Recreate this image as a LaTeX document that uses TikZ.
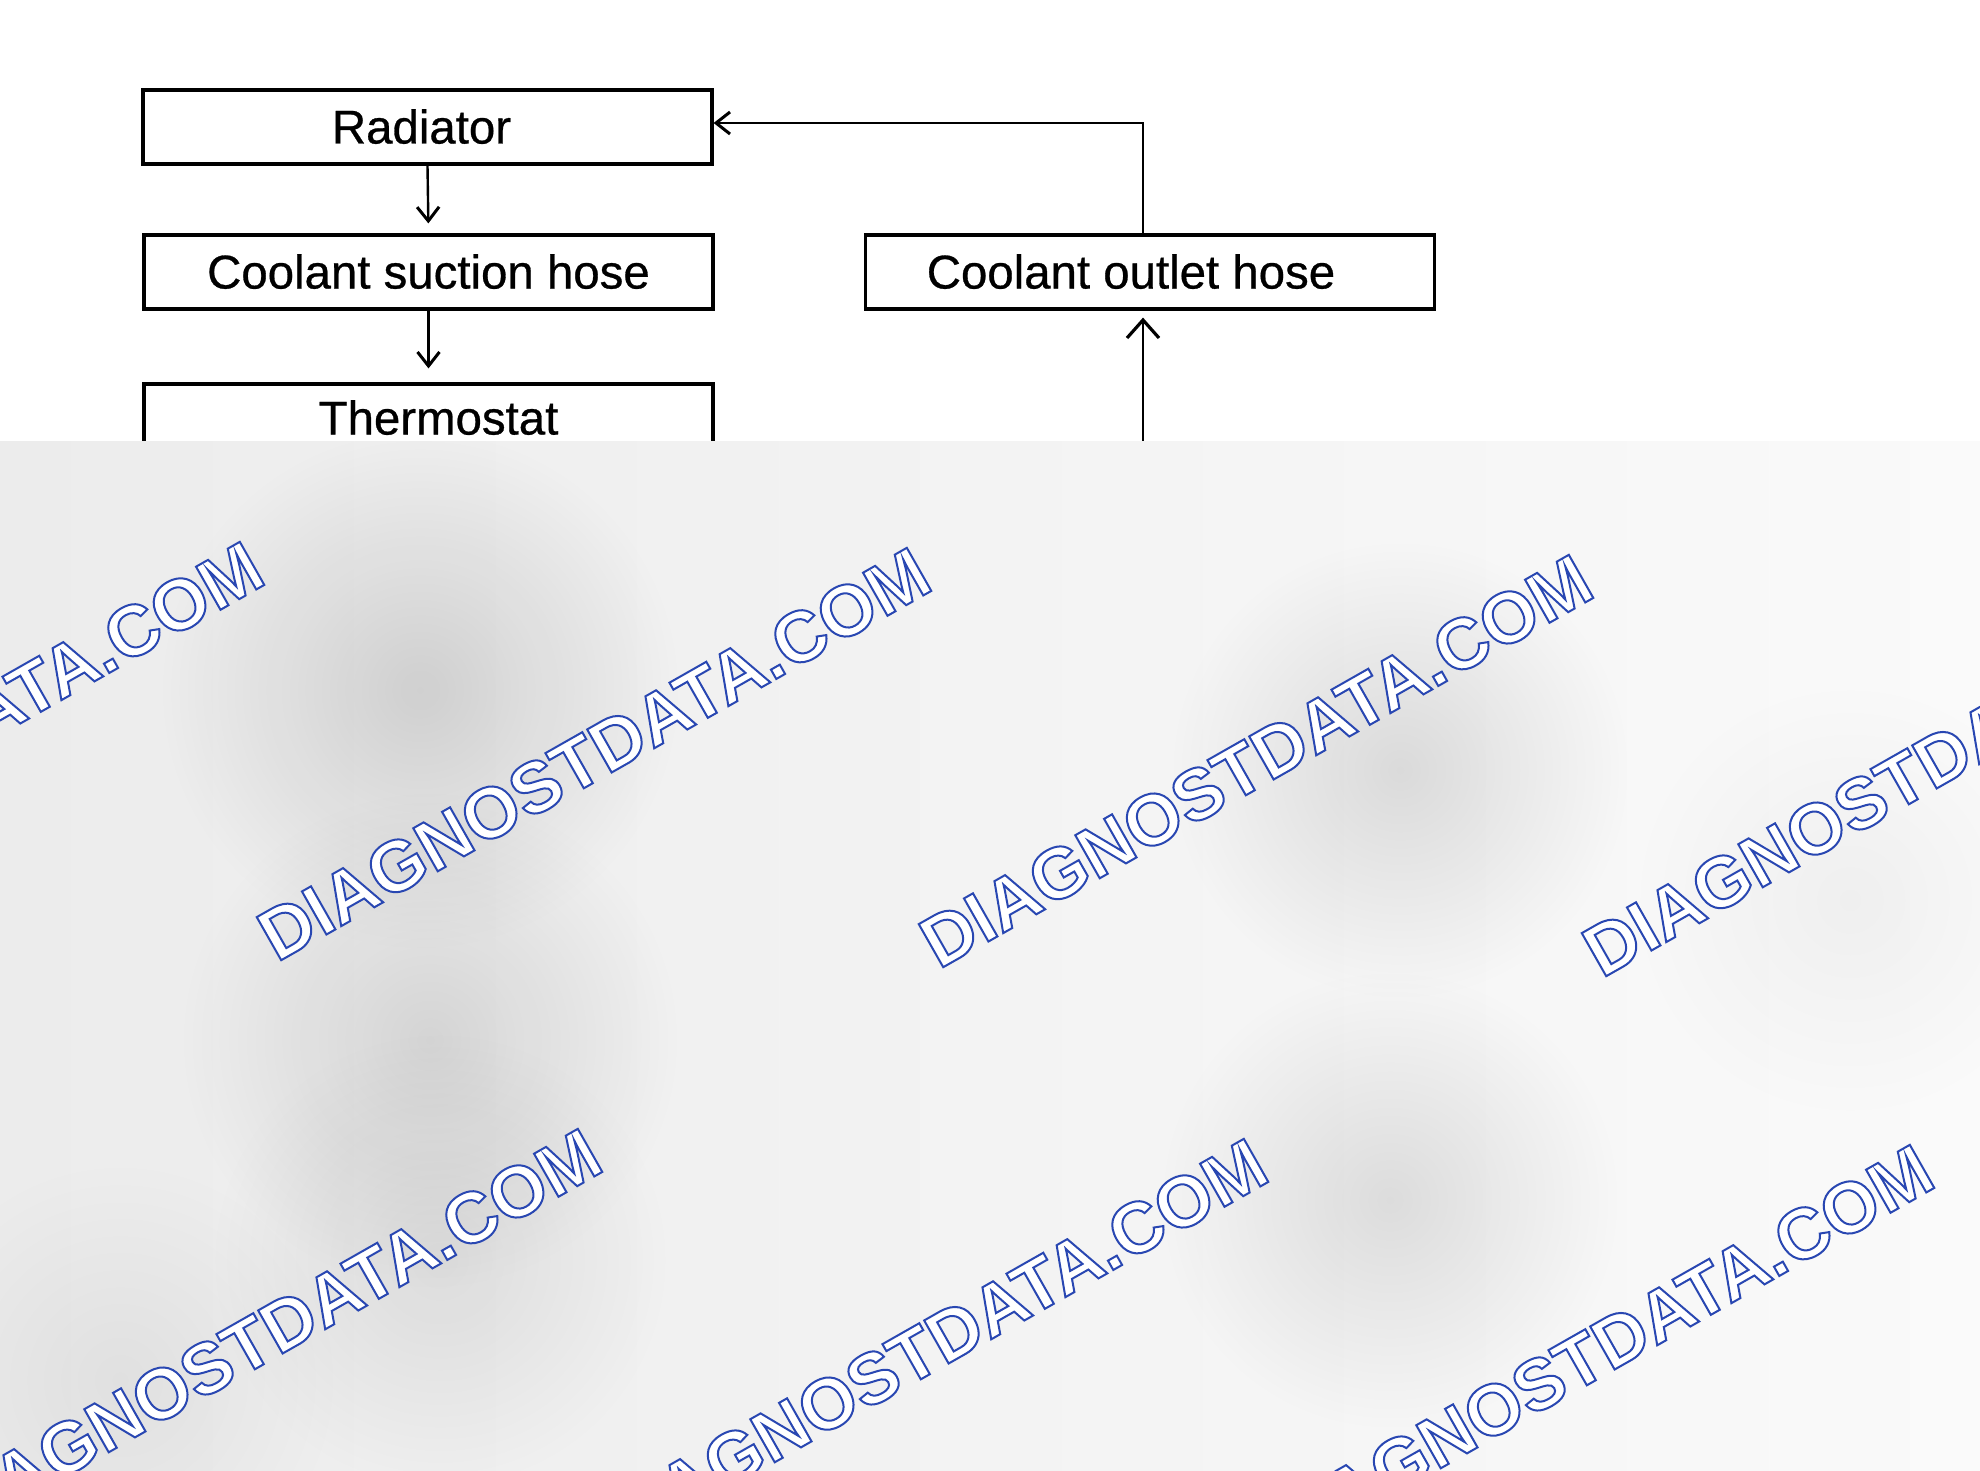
\documentclass[tikz,border=0pt]{standalone}
\usepackage{fontspec}
\setmainfont{Liberation Sans}
\newfontfamily\boxfont{Liberation Sans}[FakeBold=0.6]
\usetikzlibrary{arrows.meta,fadings}
\definecolor{ovlleft}{RGB}{236,236,236}
\definecolor{ovlright}{RGB}{250,250,250}
\tikzfading[name=softblob, inner color=transparent!0, outer color=transparent!100]
\newcommand{\wmtext}{{\color{white}\special{pdf:literal direct 0.16 0.28 0.70 RG 1 w 2 Tr}DIAGNOSTDATA.COM\special{pdf:literal direct 0 Tr}}}
\tikzset{
  box/.style={draw, line width=1.6pt, minimum width=284.5pt, minimum height=37pt, inner sep=0pt,
    font=\boxfont\fontsize{23.7pt}{28pt}\selectfont, text height=17pt, text depth=0.5pt},
  conn/.style={line width=1.2pt, -{Straight Barb[length=7pt,width=11pt,line width=1.5pt]}},
  upconn/.style={line width=1.2pt, -{Straight Barb[length=9pt,width=16pt,line width=1.6pt]}},
  wm/.style={rotate=29.6, inner sep=0pt, font=\fontsize{36pt}{40pt}\selectfont\bfseries},
  blob/.style={fill=black, path fading=softblob}
}
\begin{document}
\begin{tikzpicture}[x=0.5pt,y=-0.5pt]
\useasboundingbox[fill=white] (0,0) rectangle (1980,1471);
% boxes
\node[box] (rad) at (427.5,127) {\hspace*{-6pt}Radiator};
\node[box] (suc) at (428.5,272) {Coolant suction hose};
\node[box] (out) at (1150,272) {\hspace*{-19pt}Coolant outlet hose};
\node[box] (thr) at (428.5,421) {\hspace*{10pt}\raisebox{1.5pt}{Thermostat}};
% connectors
\draw[conn, shorten >=5pt] (rad.south) -- (suc.north);
\draw[conn, shorten >=7pt] (suc.south) -- (thr.north);
\draw[conn] ([xshift=-3.5pt]out.north) |- ([yshift=2pt]rad.east);
\coordinate (ub) at (1143,500);
\draw[upconn, shorten >=3.5pt] (ub) -- ([xshift=-3.5pt]out.south);
% overlay
\shade[left color=ovlleft, right color=ovlright] (0,441) rectangle (1980,1471);
\begin{scope}
\clip (0,441) rectangle (1980,1471);
\fill[blob, opacity=0.13] (420,690) circle (260);
\fill[blob, opacity=0.11] (430,1040) circle (250);
\fill[blob, opacity=0.08] (440,1260) circle (230);
\fill[blob, opacity=0.11] (1400,770) circle (230);
\fill[blob, opacity=0.10] (1390,1200) circle (230);
\fill[blob, opacity=0.05] (120,1380) circle (220);
\fill[blob, opacity=0.04] (1850,900) circle (220);
% watermarks
\node[wm] (w1) at (-73,748) {\wmtext};
\node[wm] (w2) at (594,754) {\wmtext};
\node[wm] (w3) at (1256,761) {\wmtext};
\node[wm] (w4) at (1919,770) {\wmtext};
\node[wm] (w5) at (265,1335) {\wmtext};
\node[wm] (w6) at (931,1345) {\wmtext};
\node[wm] (w7) at (1597,1351) {\wmtext};
\end{scope}
\end{tikzpicture}
\end{document}
